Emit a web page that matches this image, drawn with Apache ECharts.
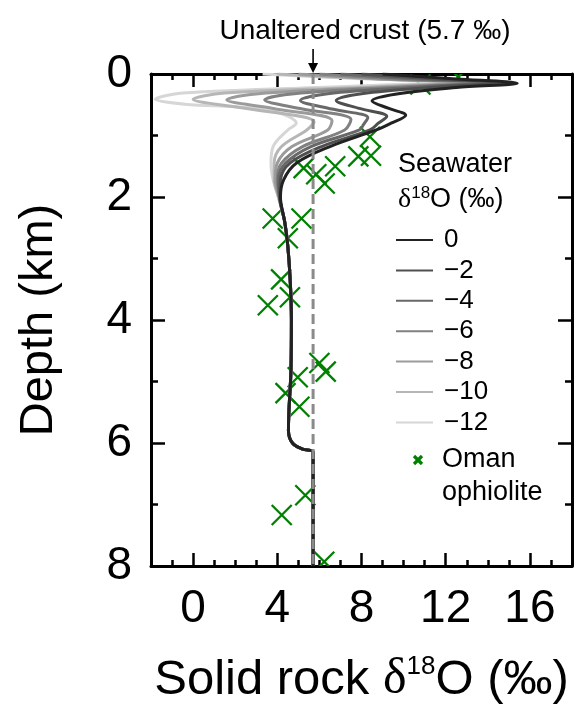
<!DOCTYPE html>
<html>
<head>
<meta charset="utf-8">
<script src="https://cdn.jsdelivr.net/npm/echarts@6/dist/echarts.min.js"></script>
<style>
html,body{margin:0;padding:0;background:#fff;}
#chart{width:574px;height:707px;}
</style>
</head>
<body>
<div id="chart"></div>
<script>
// ---- data ----
const xTickValues = [0, 4, 8, 12, 16];
const seawaterLabels = ['0', '\u22122', '\u22124', '\u22126', '\u22128', '\u221210', '\u221212'];
const curveColors = ['#222222', '#4f4f4f', '#686868', '#818181', '#9b9b9b', '#b6b6b6', '#d6d6d6'];
const unalteredCrust = 5.7;

// model profiles [solid rock d18O, depth km] (upper part differs per seawater value)
const sw0   = [[9.0,0],[12.5,0.08],[15.4,0.15],[12.5,0.22],[9.6,0.33],[8.5,0.44],[9.3,0.56],[10.1,0.67],[9.4,0.8],[8.7,0.91],[6.5,1.18],[4.9,1.45],[4.3,1.72],[4.15,2.0]];
const sw2   = [[8.0,0],[11.5,0.08],[14.8,0.14],[11.6,0.21],[8.0,0.32],[6.8,0.43],[7.9,0.56],[9.2,0.69],[8.8,0.8],[8.4,0.91],[6.1,1.18],[4.6,1.45],[4.15,1.72],[4.12,2.0]];
const sw4   = [[7.0,0],[10.5,0.08],[14.2,0.14],[10.8,0.21],[6.4,0.32],[5.1,0.43],[6.6,0.57],[8.3,0.71],[8.1,0.82],[7.9,0.91],[5.6,1.18],[4.4,1.45],[4.05,1.72],[4.1,2.0]];
const sw6   = [[6.0,0],[9.6,0.08],[13.6,0.14],[10.0,0.21],[4.8,0.32],[3.4,0.42],[5.2,0.57],[7.5,0.74],[7.2,0.91],[5.2,1.18],[4.2,1.45],[4.0,1.72],[4.1,2.0]];
const sw8   = [[5.0,0],[8.8,0.08],[13.0,0.14],[9.2,0.21],[3.1,0.32],[1.6,0.42],[3.8,0.56],[6.6,0.76],[6.4,0.91],[4.7,1.18],[4.0,1.45],[3.9,1.72],[4.08,2.0]];
const sw10  = [[4.0,0],[8.0,0.07],[12.4,0.13],[8.4,0.21],[1.5,0.31],[0.0,0.41],[2.3,0.55],[5.75,0.78],[5.4,0.91],[4.2,1.18],[3.85,1.45],[3.85,1.72],[4.05,2.0]];
const sw12  = [[3.3,0],[7.5,0.07],[11.8,0.13],[7.5,0.2],[-0.5,0.31],[-1.8,0.41],[-0.4,0.49],[2.7,0.55],[4.25,0.65],[4.9,0.8],[4.5,0.91],[3.8,1.18],[3.7,1.45],[3.8,1.72],[4.05,2.0]];
// common deep part of all profiles
const deepProfile = [[4.35,2.4],[4.5,2.8],[4.62,3.4],[4.67,4.0],[4.65,4.8],[4.55,5.5],[4.53,5.8],[4.72,6.0],[5.2,6.1],[5.7,6.15],[5.7,8.0]];

// Oman ophiolite samples
const omanD18O  = [10.8, 12.6, 8.4, 8.45, 7.85, 6.75, 5.25, 5.85, 6.25, 3.78, 5.15, 4.5, 4.18, 4.6, 3.55, 6.0, 6.3, 4.97, 4.39, 5.05, 5.33, 4.21, 6.23];
const omanDepth = [0.17, 0.05, 1.02, 1.33, 1.34, 1.5, 1.53, 1.63, 1.78, 2.35, 2.35, 2.67, 3.34, 3.63, 3.76, 4.7, 4.84, 4.93, 5.19, 5.41, 6.85, 7.17, 7.93];

// ---- chart ----
const FONT = '"Liberation Sans", Arial, Helvetica, sans-serif';
const SERIF = '"Liberation Serif", "Times New Roman", serif';
const chart = echarts.init(document.getElementById('chart'), null, {renderer: 'canvas'});

const profiles = [sw0, sw2, sw4, sw6, sw8, sw10, sw12];
const lineSeries = [];
for (let i = profiles.length - 1; i >= 0; i--) {
  lineSeries.push({
    name: seawaterLabels[i],
    type: 'line',
    xAxisIndex: 0, yAxisIndex: 0,
    data: profiles[i].concat(deepProfile),
    smooth: 0.35,
    symbol: 'none',
    clip: true,
    itemStyle: {color: curveColors[i]},
    lineStyle: {color: curveColors[i], width: 3},
    emphasis: {disabled: true}
  });
}

const axisCommon = {
  type: 'value', min: -2, max: 18, interval: 1,
  splitLine: {show: false}
};
function xAxisMajor(pos, labels) {
  return Object.assign({}, axisCommon, {
    position: pos, offset: 0,
    axisLine: {show: true, onZero: false, lineStyle: {color: '#000', width: 3}},
    axisTick: {show: true, inside: true, length: 13, lineStyle: {color: '#000', width: 2.5}, customValues: xTickValues},
    axisLabel: labels ? {show: true, customValues: xTickValues, fontSize: 46, color: '#000', fontFamily: FONT, margin: 20} : {show: false},
    name: labels ? '{a|Solid rock }{d|\u03b4}{s|18}{a|O (\u2030)}' : '',
    nameLocation: 'middle', nameGap: 88,
    nameTextStyle: {
      rich: {
        a: {fontSize: 49, fontFamily: FONT, color: '#000', lineHeight: 52},
        d: {fontSize: 50, fontFamily: SERIF, color: '#000', lineHeight: 52},
        s: {fontSize: 26, fontFamily: FONT, color: '#000', lineHeight: 26, verticalAlign: 'top'}
      }
    }
  });
}
function xAxisMinor(pos) {
  return Object.assign({}, axisCommon, {
    position: pos, offset: 0,
    axisLine: {show: false, onZero: false},
    axisTick: {show: true, inside: true, length: 6, lineStyle: {color: '#000', width: 2.5}},
    axisLabel: {show: false}
  });
}
function yAxisDef(pos, labels) {
  return {
    type: 'value', min: 0, max: 8, interval: 2, inverse: true,
    position: pos, offset: 0,
    splitLine: {show: false},
    axisLine: {show: true, onZero: false, lineStyle: {color: '#000', width: 3}},
    axisTick: {show: true, inside: true, length: 14, lineStyle: {color: '#000', width: 2.5}},
    minorTick: {show: true, splitNumber: 2, length: 7, lineStyle: {color: '#000', width: 2.5}},
    axisLabel: labels ? {show: true, fontSize: 46, color: '#000', fontFamily: FONT, margin: 19} : {show: false},
    name: labels ? 'Depth (km)' : '',
    nameLocation: 'middle', nameGap: 88,
    nameTextStyle: {fontSize: 47, fontFamily: FONT, color: '#000'}
  };
}

const option = {
  animation: false,
  backgroundColor: '#fff',
  grid: {left: 151, top: 74, width: 421, height: 492, containLabel: false, outerBoundsMode: 'none'},
  xAxis: [xAxisMajor('bottom', true), xAxisMinor('bottom'), xAxisMajor('top', false), xAxisMinor('top')],
  yAxis: [yAxisDef('left', true), yAxisDef('right', false)],
  legend: {
    data: seawaterLabels.map(n => ({name: n, icon: 'rect'})),
    orient: 'vertical', left: 396, top: 227, padding: 0,
    itemWidth: 37, itemHeight: 2, itemGap: 4.4,
    selectedMode: false,
    textStyle: {fontSize: 26, color: '#000', fontFamily: FONT, lineHeight: 26, padding: [0, 0, 0, 6]}
  },
  series: lineSeries.concat([
    {
      name: 'unaltered',
      type: 'line', xAxisIndex: 0, yAxisIndex: 0,
      data: [[unalteredCrust, 0], [unalteredCrust, 8]],
      symbol: 'none',
      lineStyle: {color: '#8a8a8a', width: 3, type: [10, 5]},
      emphasis: {disabled: true}
    },
    {
      name: 'Oman ophiolite',
      type: 'custom', xAxisIndex: 0, yAxisIndex: 0,
      clip: true,
      data: omanD18O.map((v, i) => [v, omanDepth[i]]),
      renderItem: function (params, api) {
        const p = api.coord([api.value(0), api.value(1)]);
        const h = 10;
        return {
          type: 'path',
          shape: {pathData: 'M' + (p[0]-h) + ',' + (p[1]-h) + 'L' + (p[0]+h) + ',' + (p[1]+h) +
                            'M' + (p[0]+h) + ',' + (p[1]-h) + 'L' + (p[0]-h) + ',' + (p[1]+h)},
          style: {stroke: '#008000', lineWidth: 2.3, fill: null}
        };
      }
    }
  ])
};
chart.setOption(option);

const arrowPt = chart.convertToPixel({xAxisIndex: 0, yAxisIndex: 0}, [unalteredCrust, 0]);
chart.setOption({
  graphic: [
    {type: 'text', x: 365, y: 31, silent: true,
     style: {text: 'Unaltered crust (5.7 \u2030)', font: '28px ' + FONT, fill: '#000', align: 'center', verticalAlign: 'middle'}},
    {type: 'line', silent: true, shape: {x1: arrowPt[0], y1: 49, x2: arrowPt[0], y2: arrowPt[1] - 9},
     style: {stroke: '#000', lineWidth: 1.6}},
    {type: 'polygon', silent: true,
     shape: {points: [[arrowPt[0] - 5, arrowPt[1] - 11], [arrowPt[0] + 5, arrowPt[1] - 11], [arrowPt[0], arrowPt[1] - 1]]},
     style: {fill: '#000'}},
    {type: 'text', x: 398, y: 165, silent: true,
     style: {text: 'Seawater', font: '27px ' + FONT, fill: '#000', verticalAlign: 'middle'}},
    {type: 'text', x: 398, y: 200, silent: true,
     style: {text: '{d|\u03b4}{s|18}{a|O (\u2030)}', verticalAlign: 'middle',
       rich: {
         d: {fontSize: 28, fontFamily: SERIF, fill: '#000', lineHeight: 30},
         a: {fontSize: 27, fontFamily: FONT, fill: '#000', lineHeight: 30},
         s: {fontSize: 17, fontFamily: FONT, fill: '#000', lineHeight: 17, verticalAlign: 'top'}
       }}},
    {type: 'line', silent: true, shape: {x1: 414, y1: 456, x2: 422, y2: 464},
     style: {stroke: '#008000', lineWidth: 3.2}},
    {type: 'line', silent: true, shape: {x1: 422, y1: 456, x2: 414, y2: 464},
     style: {stroke: '#008000', lineWidth: 3.2}},
    {type: 'text', x: 442, y: 460, silent: true,
     style: {text: 'Oman', font: '27px ' + FONT, fill: '#000', verticalAlign: 'middle'}},
    {type: 'text', x: 442, y: 493, silent: true,
     style: {text: 'ophiolite', font: '27px ' + FONT, fill: '#000', verticalAlign: 'middle'}}
  ]
});
</script>
</body>
</html>
